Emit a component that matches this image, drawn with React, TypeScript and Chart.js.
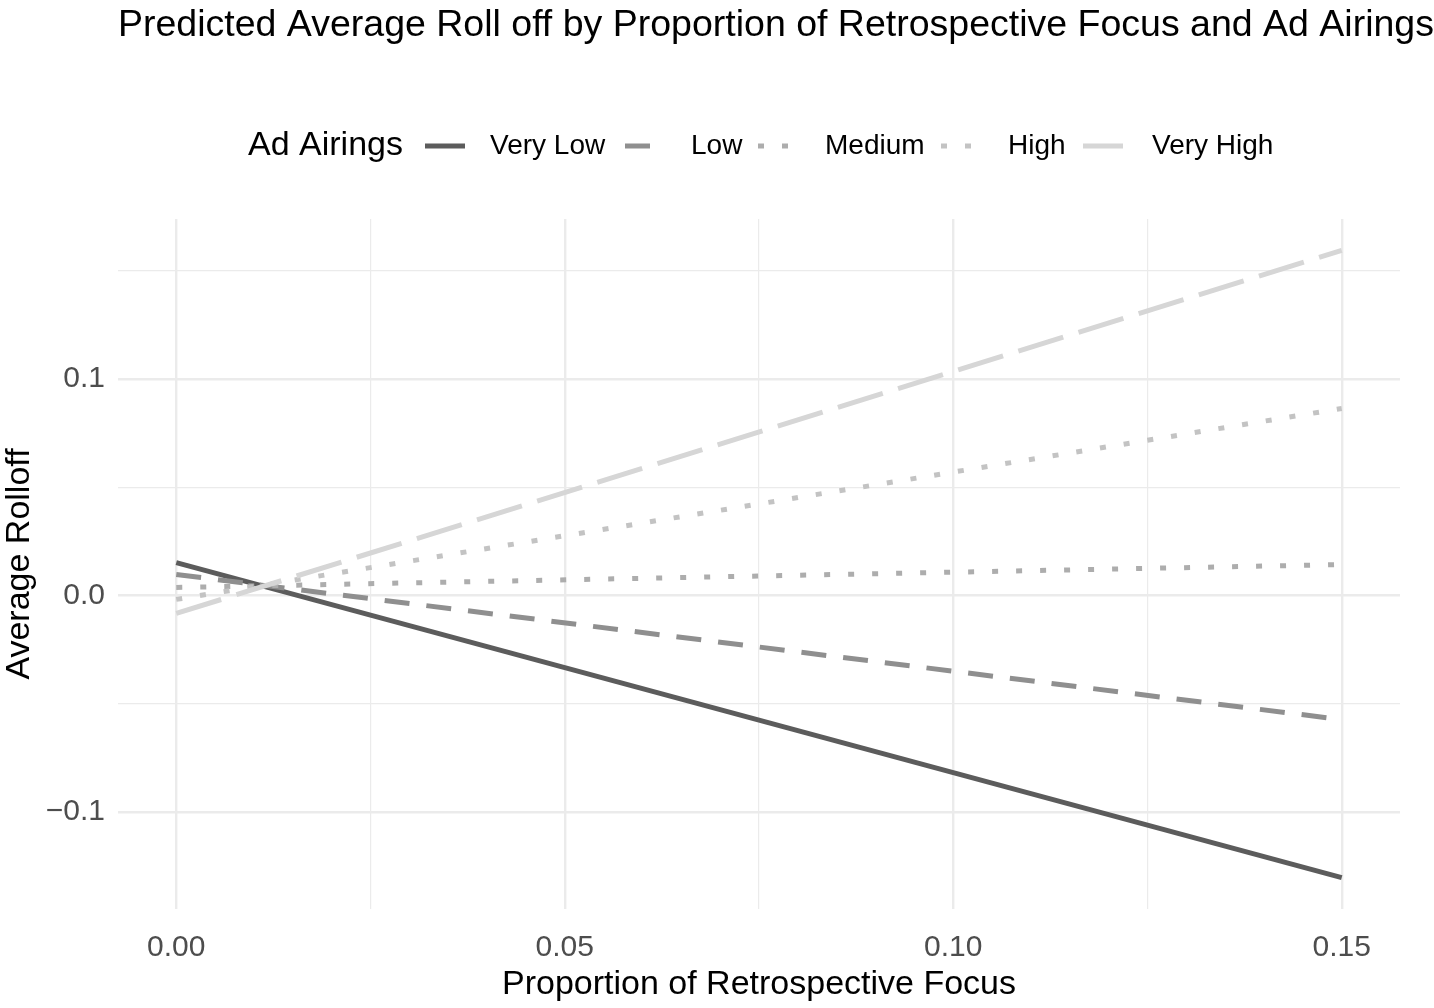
import React, { useEffect, useRef } from 'react';
import { Chart, registerables } from 'chart.js';

Chart.register(...registerables);

// ---- Data ----
const titleText = 'Predicted Average Roll off by Proportion of Retrospective Focus and Ad Airings';
const xAxisTitle = 'Proportion of Retrospective Focus';
const yAxisTitle = 'Average Rolloff';
const legendTitle = 'Ad Airings';

const xValues = [0, 0.15];
const seriesNames = ['Very Low', 'Low', 'Medium', 'High', 'Very High'];
const veryLowValues = [0.0152, -0.1303];
const lowValues = [0.0097, -0.0573];
const mediumValues = [0.0037, 0.0143];
const highValues = [-0.0018, 0.0864];
const veryHighValues = [-0.0083, 0.1594];

const xTicks = [0, 0.025, 0.05, 0.075, 0.1, 0.125, 0.15];
const xMajorTicks = [0, 0.05, 0.1, 0.15];
const xTickLabels = ['0.00', '0.05', '0.10', '0.15'];
const yTicks = [-0.1, -0.05, 0, 0.05, 0.1, 0.15];
const yMajorTicks = [-0.1, 0, 0.1];
const yTickLabels = ['\u22120.1', '0.0', '0.1'];

// ---- Styles ----
const seriesColors = ['#5c5c5c', '#8f8f8f', '#adadad', '#c3c3c3', '#d6d6d6'];
const seriesDashes: number[][] = [[], [25, 17], [6, 18], [6, 18], [47, 16]];
const legendKeyX = [425, 625, 758, 941, 1083];
const legendLabelX = [490, 691, 825, 1008, 1152];
const FONT = '"Liberation Sans", Arial, Helvetica, sans-serif';

const near = (a: number, b: number) => Math.abs(a - b) < 1e-9;

const overlayPlugin = {
  id: 'overlay',
  afterDraw(chart: any) {
    const ctx = chart.ctx as CanvasRenderingContext2D;
    const area = chart.chartArea;
    ctx.save();
    // Title
    ctx.fillStyle = '#000000';
    ctx.font = `37.5px ${FONT}`;
    ctx.textAlign = 'left';
    ctx.textBaseline = 'alphabetic';
    ctx.fillText(titleText, area.left, 36);

    // Legend
    const ly = 146;
    ctx.font = `34px ${FONT}`;
    ctx.textBaseline = 'middle';
    ctx.fillText(legendTitle, 248, ly);
    ctx.font = `28px ${FONT}`;
    seriesNames.forEach((name, i) => {
      ctx.save();
      ctx.strokeStyle = seriesColors[i];
      ctx.lineWidth = 5;
      ctx.lineCap = 'butt';
      ctx.setLineDash(seriesDashes[i]);
      ctx.beginPath();
      ctx.moveTo(legendKeyX[i], ly);
      ctx.lineTo(legendKeyX[i] + 40, ly);
      ctx.stroke();
      ctx.restore();
      ctx.fillStyle = '#000000';
      ctx.fillText(name, legendLabelX[i], ly);
    });

    // Axis titles
    ctx.font = `34px ${FONT}`;
    ctx.textAlign = 'center';
    ctx.textBaseline = 'middle';
    ctx.fillText(xAxisTitle, (area.left + area.right) / 2, 985);
    ctx.save();
    ctx.translate(20, (area.top + area.bottom) / 2);
    ctx.rotate(-Math.PI / 2);
    ctx.fillText(yAxisTitle, 0, 0);
    ctx.restore();
    ctx.restore();
  },
};

const seriesValues = [veryLowValues, lowValues, mediumValues, highValues, veryHighValues];

export default function App() {
  const canvasRef = useRef<HTMLCanvasElement | null>(null);

  useEffect(() => {
    if (!canvasRef.current) return;
    const chart = new Chart(canvasRef.current, {
      type: 'line',
      data: {
        datasets: seriesNames.map((name, i) => ({
          label: name,
          data: xValues.map((x, j) => ({ x, y: seriesValues[i][j] })),
          borderColor: seriesColors[i],
          backgroundColor: seriesColors[i],
          borderWidth: 5,
          borderDash: seriesDashes[i],
          borderCapStyle: 'butt' as const,
          pointRadius: 0,
          fill: false,
          tension: 0,
          order: seriesNames.length - 1 - i,
        })),
      },
      options: {
        responsive: false,
        animation: false,
        devicePixelRatio: 1,
        layout: { padding: { top: 219, right: 34, bottom: 0, left: 0 } },
        plugins: {
          legend: { display: false },
          title: { display: false },
          tooltip: { enabled: false },
        },
        scales: {
          x: {
            type: 'linear',
            min: -0.0075,
            max: 0.1575,
            afterBuildTicks: (scale: any) => {
              scale.ticks = xTicks.map((v) => ({ value: v }));
            },
            afterFit: (scale: any) => {
              scale.height = 99;
            },
            border: { display: false },
            grid: {
              color: '#ebebeb',
              drawTicks: false,
              lineWidth: (c: any) =>
                c.tick && xMajorTicks.some((m) => near(m, c.tick.value)) ? 2.4 : 1.2,
            },
            ticks: {
              autoSkip: false,
              maxRotation: 0,
              padding: 21,
              color: '#4d4d4d',
              font: { family: FONT, size: 30 },
              callback: (v: any) => {
                const idx = xMajorTicks.findIndex((m) => near(m, Number(v)));
                return idx >= 0 ? xTickLabels[idx] : '';
              },
            },
          },
          y: {
            type: 'linear',
            min: -0.1448,
            max: 0.1739,
            afterBuildTicks: (scale: any) => {
              scale.ticks = yTicks.map((v) => ({ value: v }));
            },
            afterFit: (scale: any) => {
              scale.width = 118;
            },
            border: { display: false },
            grid: {
              color: '#ebebeb',
              drawTicks: false,
              lineWidth: (c: any) =>
                c.tick && yMajorTicks.some((m) => near(m, c.tick.value)) ? 2.4 : 1.2,
            },
            ticks: {
              autoSkip: false,
              padding: 13,
              color: '#4d4d4d',
              font: { family: FONT, size: 30 },
              callback: (v: any) => {
                const idx = yMajorTicks.findIndex((m) => near(m, Number(v)));
                return idx >= 0 ? yTickLabels[idx] : '';
              },
            },
          },
        },
      },
      plugins: [overlayPlugin],
    } as any);
    return () => chart.destroy();
  }, []);

  return (
    <div style={{ position: 'fixed', left: 0, top: 0, width: 1434, height: 1008, background: '#ffffff' }}>
      <canvas ref={canvasRef} width={1434} height={1008} style={{ display: 'block' }} />
    </div>
  );
}
